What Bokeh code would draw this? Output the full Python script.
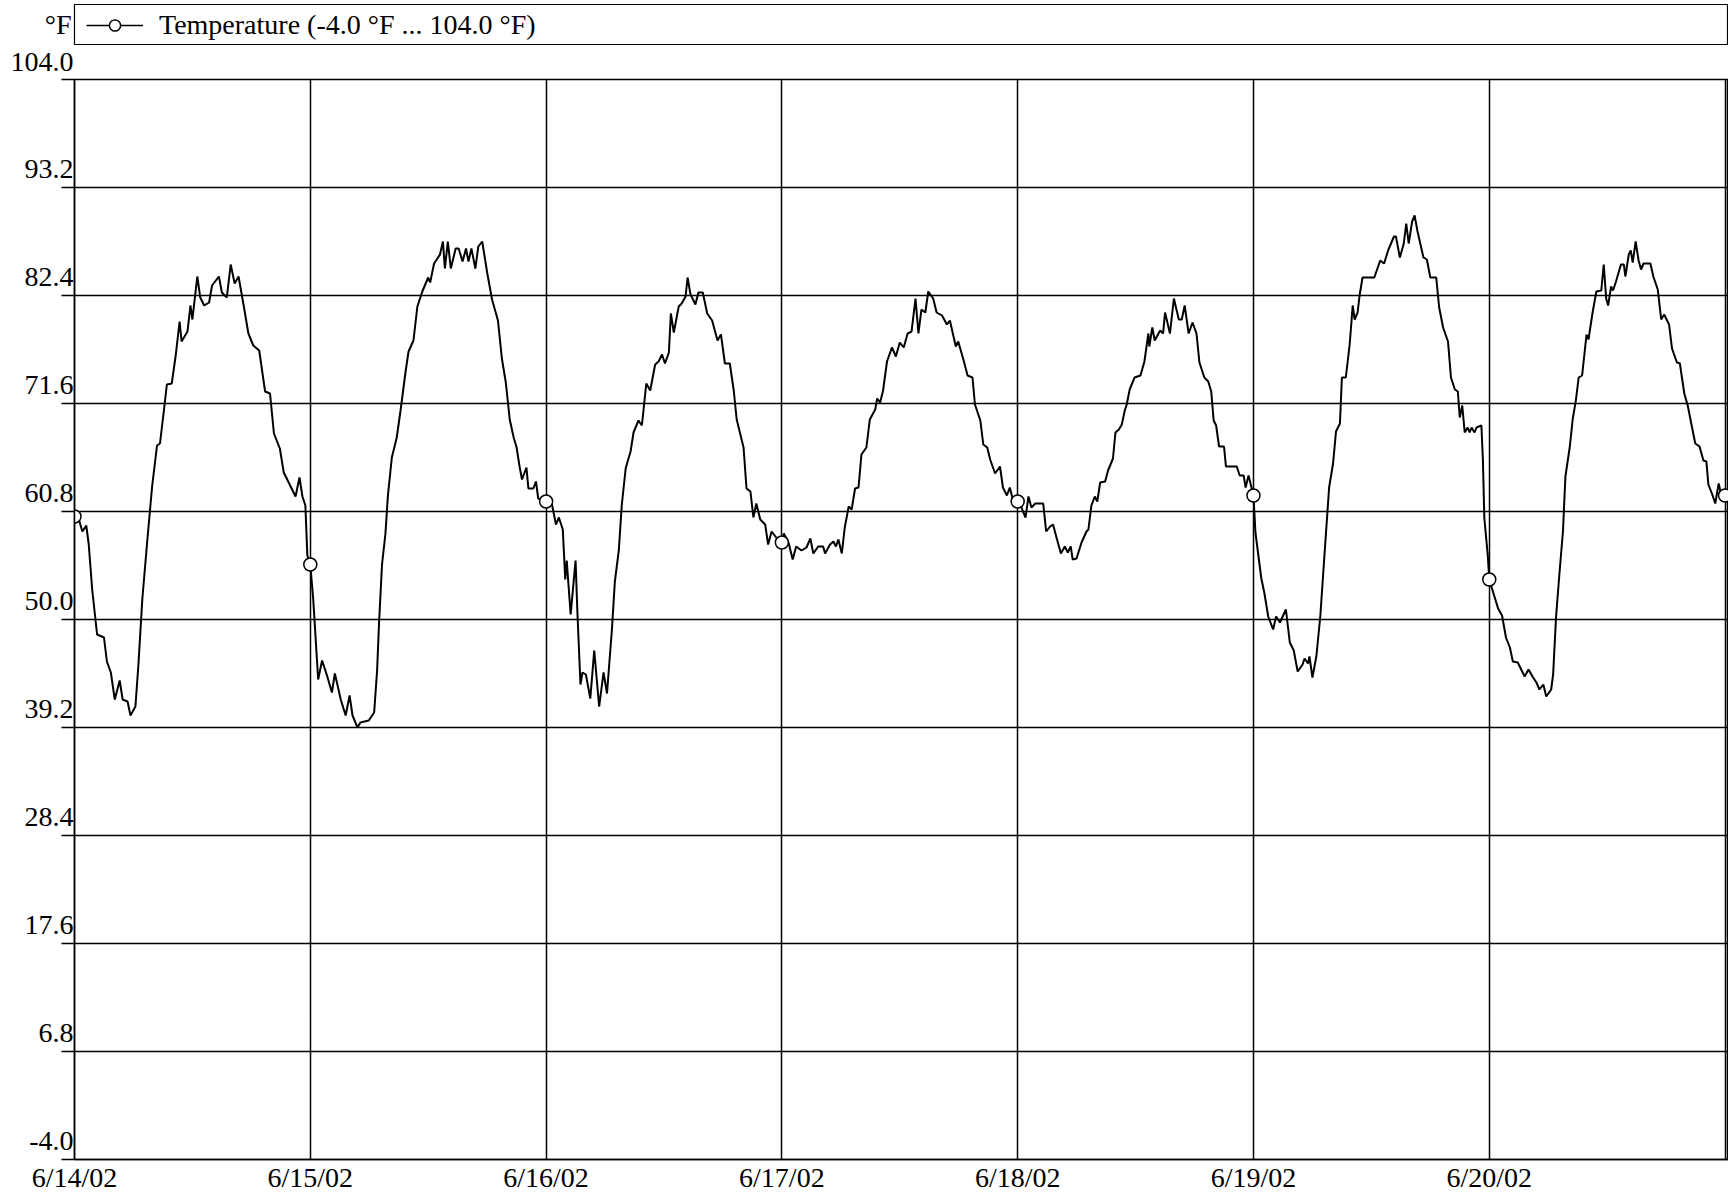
from bokeh.plotting import figure
from bokeh.models import (ColumnDataSource, Range1d, FixedTicker, Legend, LegendItem)
from bokeh.layouts import column
from bokeh.embed import file_html
from bokeh.resources import INLINE

# ---- data (hours since 6/14/02 00:00, temperature in °F) ----
hours = [
    0.0, 0.45, 0.8, 1.2, 1.45, 1.8, 2.3, 3.0, 3.3, 3.7, 4.1, 4.6, 4.9, 5.4, 5.7, 6.2, 6.5, 6.9, 7.4, 7.9,
    8.4, 8.7, 9.1, 9.4, 9.9, 10.3, 10.7, 10.9, 11.5, 11.8, 12.0, 12.5, 12.8, 13.2, 13.7, 14.0, 14.7, 15.0,
    15.5, 15.9, 16.3, 16.7, 17.2, 17.7, 18.2, 18.8, 19.4, 19.9, 20.3, 20.9, 21.3, 22.0, 22.5, 22.9, 23.2,
    23.5, 23.7, 24.0,
    24.3, 24.8, 25.2, 25.7, 26.2, 26.5, 27.1, 27.6, 28.0, 28.3, 28.8, 29.1, 29.95, 30.5, 30.8, 31.0, 31.3,
    31.65, 31.9, 32.3, 32.8, 33.2, 33.7, 34.0, 34.5, 34.9, 35.4, 36.0, 36.2, 36.6, 37.2, 37.5, 37.7, 38.0,
    38.3, 38.8, 39.1, 39.5, 39.85, 40.1, 40.4, 40.8, 41.1, 41.5, 42.0, 42.5, 43.1, 43.5, 43.9, 44.3, 44.7,
    45.0, 45.3, 45.55, 46.0, 46.2, 46.7, 46.97, 47.2, 48.0,
    48.6, 49.0, 49.3, 49.7, 49.95, 50.1, 50.5, 51.0, 51.2, 51.5, 51.7, 52.05, 52.5, 52.9, 53.4, 53.85, 54.2,
    54.7, 55.0, 55.4, 55.7, 56.1, 56.3, 56.6, 56.9, 57.4, 57.75, 58.2, 58.6, 59.1, 59.45, 59.8, 60.1, 60.5,
    60.7, 61.0, 61.5, 61.8, 62.2, 62.4, 62.7, 63.2, 63.5, 63.95, 64.4, 64.9, 65.45, 65.8, 66.2, 66.7, 67.1,
    67.4, 68.1, 68.4, 68.8, 69.1, 69.4, 69.8, 70.3, 70.6, 70.95, 71.5, 72.0,
    72.2, 72.7, 73.1, 73.45, 74.0, 74.5, 74.9, 75.2, 75.7, 76.2, 76.4, 76.9, 77.25, 77.5, 77.75, 78.1, 78.4,
    78.8, 79.1, 79.45, 79.8, 80.1, 80.6, 80.95, 81.5, 81.7, 82.0, 82.3, 82.7, 83.2, 83.6, 84.0, 84.4, 84.8,
    85.2, 85.6, 85.9, 86.2, 86.6, 86.9, 87.4, 87.75, 88.3, 88.8, 89.1, 89.7, 89.95, 90.5, 90.9, 91.4, 91.65,
    92.2, 92.5, 92.9, 93.2, 93.7, 94.2, 94.5, 94.9, 95.2, 95.55, 96.0,
    96.3, 96.8, 97.1, 97.4, 97.8, 98.6, 98.9, 99.3, 99.6, 99.95, 100.4, 100.8, 101.1, 101.4, 101.6, 101.99,
    102.5, 103.0, 103.2, 103.5, 103.85, 104.1, 104.4, 104.9, 105.2, 105.7, 105.95, 106.3, 106.6, 106.9,
    107.1, 107.4, 107.9, 108.5, 108.9, 109.3, 109.4, 109.7, 109.95, 110.5, 110.8, 111.0, 111.5, 111.9,
    112.4, 112.7, 113.0, 113.4, 113.8, 114.2, 114.5, 115.0, 115.4, 115.7, 115.95, 116.2, 116.5, 117.0,
    117.2, 118.3, 118.6, 119.0, 119.2, 119.5, 119.8, 120.0,
    120.2, 120.5, 120.8, 121.1, 121.5, 122.0, 122.3, 122.7, 123.3, 123.7, 124.1, 124.5, 125.0, 125.2,
    125.55, 125.7, 126.0, 126.4, 126.8, 127.25, 127.7, 128.1, 128.4, 128.8, 129.0, 129.4, 129.8, 130.1,
    130.3, 130.6, 130.8, 131.1, 132.3, 132.9, 133.3, 133.7, 134.3, 134.5, 134.9, 135.3, 135.55, 135.8,
    136.15, 136.4, 136.7, 137.3, 137.65, 138.0, 138.6, 138.9, 139.3, 139.8, 140.1, 140.5, 140.8, 141.0,
    141.25, 141.5, 141.8, 142.0, 142.2, 142.5, 142.7, 143.2, 143.35, 143.5, 143.85, 144.0,
    144.4, 144.9, 145.3, 145.7, 146.1, 146.4, 146.9, 147.25, 147.6, 148.0, 148.4, 148.8, 149.1, 149.5,
    149.8, 150.3, 150.5, 150.8, 151.15, 151.5, 151.75, 152.2, 152.5, 152.8, 153.1, 153.45, 153.9, 154.1,
    154.5, 154.9, 155.4, 155.65, 155.9, 156.1, 156.4, 156.6, 156.9, 157.4, 157.7, 157.85, 158.2, 158.4,
    158.6, 158.9, 159.2, 159.45, 159.7, 160.4, 160.7, 161.15, 161.5, 161.8, 162.3, 162.6, 163.1, 163.4,
    163.85, 164.2, 164.6, 164.97, 165.4, 165.8, 166.1, 166.3, 166.7, 167.0, 167.35, 167.6, 167.9, 168.0,
]
temps_f = [
    60.3, 60.0, 58.8, 59.4, 57.5, 53.0, 48.5, 48.2, 45.8, 44.7, 42.0, 43.9, 42.0, 41.8, 40.4, 41.3, 45.4,
    52.0, 57.8, 63.3, 67.4, 67.6, 70.9, 73.5, 73.6, 76.4, 79.8, 77.8, 78.8, 81.4, 80.0, 84.3, 82.2, 81.4,
    81.7, 83.4, 84.3, 82.7, 82.2, 85.5, 83.6, 84.3, 81.5, 78.6, 77.4, 76.9, 72.8, 72.6, 68.6, 67.1, 64.7,
    63.3, 62.3, 64.2, 62.3, 61.4, 56.4, 55.5,
    52.0, 44.0, 45.9, 44.4, 42.7, 44.6, 42.0, 40.4, 42.4, 40.4, 39.2, 39.7, 39.9, 40.7, 44.9, 49.7, 55.5,
    58.6, 62.4, 66.2, 68.2, 71.0, 74.8, 76.8, 77.9, 81.3, 82.8, 84.2, 83.7, 85.6, 86.5, 87.8, 85.1, 87.8,
    85.1, 87.1, 87.1, 85.8, 87.1, 85.8, 87.1, 85.1, 87.3, 87.8, 84.7, 82.0, 79.9, 76.1, 73.7, 70.0, 68.2,
    67.2, 65.3, 64.0, 65.2, 63.1, 63.1, 63.8, 62.1, 61.8,
    61.5, 59.5, 60.2, 59.0, 54.0, 55.9, 50.5, 55.9, 50.4, 43.5, 44.7, 44.5, 42.1, 46.9, 41.3, 44.7, 42.6,
    49.0, 53.8, 56.9, 61.4, 65.1, 65.8, 66.8, 68.7, 69.9, 69.4, 73.6, 72.9, 75.5, 75.8, 76.5, 75.6, 76.7,
    80.6, 78.7, 81.3, 81.6, 82.3, 84.2, 82.5, 81.5, 82.7, 82.7, 80.6, 79.9, 77.9, 78.5, 75.6, 75.6, 72.9,
    70.0, 67.2, 63.1, 62.8, 60.2, 61.6, 60.0, 59.5, 57.5, 58.8, 58.1, 57.7,
    58.6, 57.6, 56.0, 57.3, 56.9, 57.2, 58.1, 56.6, 57.3, 57.3, 56.6, 57.5, 57.8, 57.3, 58.0, 56.6, 59.2,
    61.3, 61.0, 63.1, 63.2, 66.5, 67.2, 70.0, 71.0, 72.1, 71.7, 72.9, 75.8, 77.2, 76.3, 77.7, 77.2, 78.6,
    78.8, 82.1, 78.6, 81.0, 80.7, 82.8, 82.1, 80.7, 80.4, 79.5, 79.9, 77.3, 77.8, 75.9, 74.4, 74.2, 71.5,
    69.9, 67.5, 67.2, 66.0, 64.6, 65.3, 63.2, 62.4, 63.2, 61.8, 61.8,
    61.4, 60.2, 62.3, 61.2, 61.6, 61.6, 58.8, 59.3, 59.5, 58.2, 56.6, 57.3, 56.7, 57.3, 56.0, 56.1,
    57.7, 58.8, 59.0, 61.4, 62.3, 61.8, 63.7, 63.8, 64.9, 66.1, 68.7, 69.0, 69.5, 70.9,
    71.5, 73.0, 74.2, 74.4, 75.8, 78.6, 77.3, 79.2, 77.9, 78.9, 78.6, 80.7, 78.6, 82.1,
    80.0, 80.0, 81.4, 78.6, 79.7, 78.6, 75.7, 74.2, 73.8, 72.8, 69.9, 69.4, 67.3, 67.3,
    65.3, 65.3, 64.4, 64.4, 63.2, 64.4, 63.2, 62.4,
    58.7, 56.4, 54.1, 52.7, 50.3, 49.0, 50.3, 49.7, 51.0, 47.7, 46.9, 44.8, 45.5, 46.1,
    45.6, 46.3, 44.2, 46.3, 50.3, 56.8, 63.2, 65.6, 68.8, 69.6, 74.2, 74.2, 77.6, 81.4,
    80.0, 80.7, 82.4, 84.2, 84.2, 85.9, 85.6, 86.9, 88.3, 88.3, 86.2, 87.6, 89.6, 87.6,
    89.8, 90.4, 88.8, 86.2, 86.0, 84.2, 84.2, 81.2, 79.2, 77.8, 74.2, 73.0, 72.8, 70.2,
    71.4, 68.7, 69.2, 68.7, 69.2, 68.7, 69.2, 69.4, 66.0, 60.1, 56.4, 54.0,
    52.7, 51.1, 50.4, 48.2, 47.2, 45.8, 45.7, 45.0, 44.3, 45.0, 44.3, 43.7, 43.0, 43.5,
    42.3, 43.0, 44.5, 50.3, 54.7, 58.8, 64.3, 67.3, 70.1, 71.8, 74.2, 74.4, 78.5, 78.0,
    80.6, 82.8, 82.9, 85.5, 82.1, 81.4, 83.3, 82.9, 83.8, 85.5, 85.5, 84.3, 86.5, 86.9,
    85.7, 87.8, 85.9, 85.0, 85.6, 85.6, 84.3, 83.0, 80.0, 80.5, 79.5, 77.1, 75.7, 75.6,
    72.6, 71.4, 69.4, 67.6, 67.3, 65.9, 65.8, 63.5, 62.5, 61.6, 63.6, 62.5, 62.9, 62.4,
]
x_tick_hours = [0, 24, 48, 72, 96, 120, 144, 168]
x_tick_labels = ["6/14/02", "6/15/02", "6/16/02", "6/17/02", "6/18/02", "6/19/02", "6/20/02", ""]
y_tick_values = [-4.0, 6.8, 17.6, 28.4, 39.2, 50.0, 60.8, 71.6, 82.4, 93.2, 104.0]
y_tick_labels = ["-4.0", "6.8", "17.6", "28.4", "39.2", "50.0", "60.8", "71.6", "82.4", "93.2", "104.0"]
series_name = "Temperature (-4.0 °F ... 104.0 °F)"
unit_label = "°F"

FONT = "Liberation Serif"
FSIZE = "28px"

src = ColumnDataSource(dict(h=hours, t=temps_f))
# one marker per day boundary, taken from the series itself
is_day = [abs(h / 24.0 - round(h / 24.0)) < 1e-9 for h in hours]
mk = ColumnDataSource(dict(h=[h for h, d in zip(hours, is_day) if d],
                           t=[t for t, d in zip(temps_f, is_day) if d]))

# ---------------- main chart ----------------
p = figure(width=1728, height=1150, x_range=Range1d(0, 168.35), y_range=Range1d(-4.0, 104.0),
           output_backend="svg", toolbar_location=None,
           min_border_left=74, min_border_right=0, min_border_top=34, min_border_bottom=30)
p.background_fill_color = "white"
p.border_fill_color = "white"
p.outline_line_color = "black"
p.outline_line_width = 1.5

p.line("h", "t", source=src, line_color="black", line_width=2.0)
p.scatter("h", "t", source=mk, marker="circle", size=13, fill_color="white",
          line_color="black", line_width=1.5)

p.xaxis.ticker = FixedTicker(ticks=x_tick_hours)
p.xaxis.major_label_overrides = {h: l for h, l in zip(x_tick_hours, x_tick_labels)}
p.xaxis.major_tick_out = 0
p.xaxis.major_tick_in = 0
p.xaxis.minor_tick_out = 0
p.xaxis.major_label_standoff = 2
p.xaxis.major_label_text_font = FONT
p.xaxis.major_label_text_font_size = FSIZE
p.xaxis.major_label_text_color = "black"
p.xaxis.axis_line_color = "black"
p.xaxis.axis_line_width = 1.5

# y labels sit just above their grid line: a second (blank) text line pushes them up
p.yaxis.ticker = FixedTicker(ticks=y_tick_values)
p.yaxis.major_label_overrides = {v: l + "\n\u00a0" for v, l in zip(y_tick_values, y_tick_labels)}
p.yaxis.major_tick_out = 13
p.yaxis.major_tick_in = 0
p.yaxis.minor_tick_out = 0
p.yaxis.major_tick_line_color = "black"
p.yaxis.major_tick_line_width = 1.5
p.yaxis.major_label_standoff = -12
p.yaxis.major_label_text_font = FONT
p.yaxis.major_label_text_font_size = FSIZE
p.yaxis.major_label_text_color = "black"
p.yaxis.axis_line_color = "black"
p.yaxis.axis_line_width = 1.5

p.grid.grid_line_color = "black"
p.grid.grid_line_width = 1.5
p.grid.grid_line_alpha = 1.0

# ---------------- legend strip ----------------
lg = figure(width=1728, height=45, x_range=Range1d(0, 1), y_range=Range1d(0, 1),
            output_backend="svg", toolbar_location=None,
            x_axis_location=None, y_axis_location="left",
            min_border_left=74, min_border_right=0, min_border_top=4, min_border_bottom=1)
lg.outline_line_color = "black"
lg.outline_line_width = 1.2
lg.background_fill_color = "white"
lg.border_fill_color = "white"
lg.grid.grid_line_color = None
lg.yaxis.ticker = FixedTicker(ticks=[0.5])
lg.yaxis.major_label_overrides = {0.5: unit_label}
lg.yaxis.axis_line_color = None
lg.yaxis.major_tick_line_color = None
lg.yaxis.major_tick_out = 0
lg.yaxis.major_tick_in = 0
lg.yaxis.minor_tick_out = 0
lg.yaxis.major_label_standoff = 3
lg.yaxis.major_label_text_font = FONT
lg.yaxis.major_label_text_font_size = FSIZE
lg.yaxis.major_label_text_color = "black"

r_line = lg.line("h", "t", source=src, line_color="black", line_width=1.5)
r_mark = lg.scatter("h", "t", source=mk, marker="circle", size=11, fill_color="white",
                    line_color="black", line_width=1.5)
legend = Legend(items=[LegendItem(label=series_name, renderers=[r_line, r_mark])],
                location=(12, 3), padding=0, margin=0, spacing=0,
                glyph_width=57, glyph_height=28, label_standoff=16,
                label_text_font=FONT, label_text_font_size=FSIZE, label_text_color="black",
                border_line_alpha=0, background_fill_alpha=0)
lg.add_layout(legend)

layout = column(lg, p, spacing=0)
open("out.html", "w").write(file_html(layout, INLINE))
